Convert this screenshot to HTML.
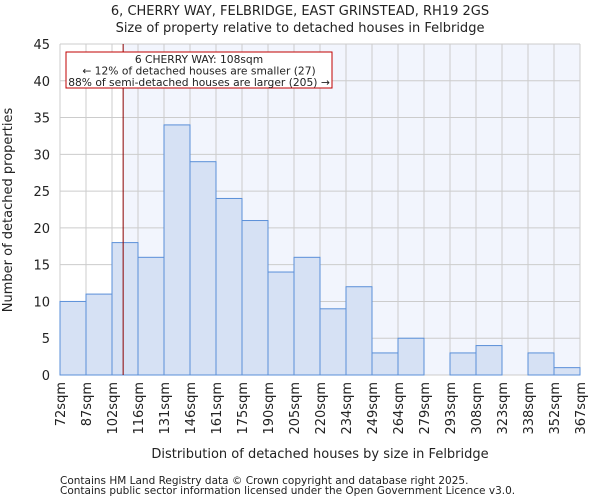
<!DOCTYPE html>
<html><head><meta charset="utf-8"><style>
body{margin:0;background:#fff;font-family:"DejaVu Sans","Liberation Sans",sans-serif;}
svg text{font-family:"DejaVu Sans","Liberation Sans",sans-serif;fill:#222;}
</style></head><body>
<svg id="chart" width="600" height="500" viewBox="0 0 600 500" xmlns="http://www.w3.org/2000/svg">
<text x="300" y="15" font-size="13" text-anchor="middle">6, CHERRY WAY, FELBRIDGE, EAST GRINSTEAD, RH19 2GS</text>
<text x="300" y="32" font-size="13" text-anchor="middle">Size of property relative to detached houses in Felbridge</text>
<rect id="hl" x="123" y="44" width="457" height="331" fill="#f2f5fd"/>
<g id="grid"></g>
<g id="bars"></g>
<line id="marker" y1="44" y2="375" stroke="#8b0000" stroke-width="1"/>
<rect x="66" y="52" width="266" height="36" fill="#fff" stroke="#c00000" stroke-width="1"/>
<text x="199" y="63" font-size="10.7" text-anchor="middle">6 CHERRY WAY: 108sqm</text>
<text x="199" y="74.5" font-size="10.7" text-anchor="middle">← 12% of detached houses are smaller (27)</text>
<text x="199" y="86" font-size="10.7" text-anchor="middle">88% of semi-detached houses are larger (205) →</text>
<g id="axes"></g>
<text transform="translate(12,210) rotate(-90)" font-size="13" text-anchor="middle">Number of detached properties</text>
<text x="320" y="458" font-size="13" text-anchor="middle">Distribution of detached houses by size in Felbridge</text>
<text x="60" y="484" font-size="10.5">Contains HM Land Registry data © Crown copyright and database right 2025.</text>
<text x="60" y="494" font-size="10.5">Contains public sector information licensed under the Open Government Licence v3.0.</text>
</svg>
<script>
const binLabels=["72sqm","87sqm","102sqm","116sqm","131sqm","146sqm","161sqm","175sqm","190sqm","205sqm","220sqm","234sqm","249sqm","264sqm","279sqm","293sqm","308sqm","323sqm","338sqm","352sqm","367sqm"];
const counts=[10,11,18,16,34,29,24,21,14,16,9,12,3,5,0,3,4,0,3,1];
const yTicks=[0,5,10,15,20,25,30,35,40,45];
const propertySize=108;
const binEdges=[72,87,102,116,131,146,161,175,190,205,220,234,249,264,279,293,308,323,338,352,367];
const NS="http://www.w3.org/2000/svg";
const L=60,R=580,T=44,B=375,yMax=45;
const bw=(R-L)/counts.length;
const xi=i=>L+i*bw;
const y=v=>B-(v/yMax)*(B-T);
function xVal(v){for(let i=0;i<binEdges.length-1;i++){if(v<=binEdges[i+1])return xi(i)+(v-binEdges[i])/(binEdges[i+1]-binEdges[i])*bw;}return R;}
function mk(t,a,p){const e=document.createElementNS(NS,t);for(const k in a)e.setAttribute(k,a[k]);p.appendChild(e);return e;}
const grid=document.getElementById('grid'),bars=document.getElementById('bars'),axes=document.getElementById('axes');
binLabels.forEach((l,i)=>{const g=mk('line',{x1:xi(i),x2:xi(i),y1:T,y2:B,stroke:'#ccc','stroke-width':1},grid);

});
yTicks.forEach(t=>{const g=mk('line',{x1:L,x2:R,y1:y(t),y2:y(t),stroke:'#ccc','stroke-width':1},grid);


const tx=mk('text',{x:L-10,y:y(t)+5,'font-size':13,'text-anchor':'end'},axes);tx.textContent=t;

});
const mx=xVal(propertySize);
const hl=document.getElementById('hl');hl.setAttribute('x',mx);hl.setAttribute('width',R-mx);
counts.forEach((c,i)=>{const r=mk('rect',{x:xi(i),y:y(c),width:bw,height:B-y(c),fill:'#d6e1f4',stroke:'#5a8fd8','stroke-width':1},bars);

});
const m=document.getElementById('marker');m.setAttribute('x1',mx);m.setAttribute('x2',mx);
binLabels.forEach((l,i)=>{const tx=mk('text',{transform:`translate(${xi(i)+5},382) rotate(-90)`,'font-size':13,'text-anchor':'end'},axes);tx.textContent=l;

});
</script>
</body></html>
